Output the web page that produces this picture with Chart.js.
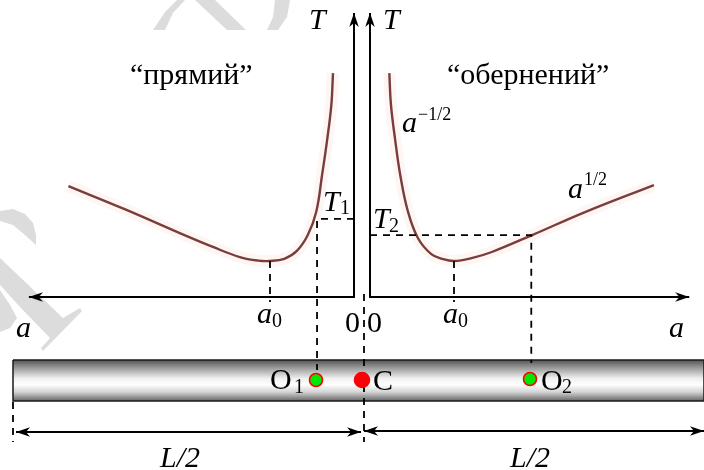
<!DOCTYPE html>
<html>
<head>
<meta charset="utf-8">
<style>
    html, body { margin: 0; padding: 0; background: #fff; }
    canvas { display: block; }
</style>
<script src="https://cdn.jsdelivr.net/npm/chart.js@4"></script>
</head>
<body>
<canvas id="chart" width="704" height="470"></canvas>
<script>
/**
 * Curves: a in units of a0, T in units of the minimum.
 */
var directA = [0.25, 0.27, 0.32, 0.38, 0.45, 0.55, 0.68, 0.83, 1.00, 1.14, 1.36, 1.68, 1.99, 2.73, 3.40];
var directT = [6.22, 5.33, 4.36, 3.39, 2.36, 1.72, 1.28, 1.06, 1.00, 1.01, 1.11, 1.39, 1.69, 2.44, 3.08];
var inverseA = [0.23, 0.25, 0.30, 0.36, 0.45, 0.57, 0.73, 0.86, 1.00, 1.21, 1.45, 1.93, 2.56, 3.38];
var inverseT = [6.22, 5.33, 4.36, 3.39, 2.39, 1.64, 1.19, 1.06, 1.00, 1.08, 1.25, 1.72, 2.36, 3.11];

/** Marked values on the two graphs. */
var a0 = 1.00;
var a1 = 0.44;
var T1 = 2.17;
var a2 = 1.92;
var T2 = 1.72;

/** Length of the axes. */
var axisTopT = 7.89;
var directAxisEnd = 3.87;
var inverseAxisEnd = 3.80;

/** Texts of the figure. */
var titles = ['\u201cпрямий\u201d', '\u201cобернений\u201d'];
var powers = ['\u22121/2', '1/2'];
var halfLength = 'L/2';

/** Outline of the rod and the grey watermark pieces on the figure scale. */
var rodX = [13, 704, 704, 13, 13];
var rodY = [360, 360, 401, 401, 360];
var pivotX = [316, 362, 530];
var pivotY = [380, 380, 379];
var watermark = [
    [[153, 30], [165, 12], [177, 0], [185, 0], [173, 13], [165, 30]],
    [[195, 0], [215, 0], [246, 30], [227, 30]],
    [[275, 0], [290, 0], [287, 17], [278, 30], [267, 30], [273, 17]],
    [[0, 211], [13, 209], [25, 214], [33, 223], [36, 235], [36, 245], [25, 235], [13, 225], [0, 221]],
    [[0, 258], [63, 318], [80, 308], [82, 311], [43, 351], [41, 348], [50, 338], [20, 307], [0, 285]],
    [[0, 290], [10, 305], [17, 318], [10, 328], [0, 332]]
];

var SERIF = '"Liberation Serif", "Times New Roman", serif';

function zip(xs, ys) {
    var points = [];
    for (var i = 0; i < xs.length; i++) {
        points.push({x: xs[i], y: ys[i]});
    }
    return points;
}

/**
 * Arrow head as a point image, the tip sits in the middle so the data point is the tip.
 */
function createArrowHead() {
    var canvas = document.createElement('canvas');
    canvas.width = 28;
    canvas.height = 14;
    var ctx = canvas.getContext('2d');
    ctx.fillStyle = '#000';
    ctx.beginPath();
    ctx.moveTo(14, 7);
    ctx.lineTo(0, 2.2);
    ctx.lineTo(4, 7);
    ctx.lineTo(0, 11.8);
    ctx.closePath();
    ctx.fill();
    return canvas;
}

var arrowHead = createArrowHead();

function line(points, xAxisID, yAxisID, color, width, extra) {
    var dataset = {
        type: 'scatter',
        showLine: true,
        data: points,
        xAxisID: xAxisID,
        yAxisID: yAxisID,
        borderColor: color,
        borderWidth: width,
        pointRadius: 0,
        fill: false
    };
    return Object.assign(dataset, extra || {});
}

function dashed(points, xAxisID) {
    return line(points, xAxisID, 'yT', '#000', 1.8, {borderDash: [7, 6]});
}

function rodGradient(context) {
    var chart = context.chart;
    // first resolved before the layout has placed the scales
    if (!chart.chartArea) {
        return '#cccccc';
    }
    var scale = chart.scales.yF;
    var gradient = chart.ctx.createLinearGradient(0, scale.getPixelForValue(360), 0, scale.getPixelForValue(401));
    gradient.addColorStop(0, '#555555');
    gradient.addColorStop(0.15, '#8c8c8c');
    gradient.addColorStop(0.45, '#f0f0f0');
    gradient.addColorStop(0.6, '#ffffff');
    gradient.addColorStop(0.78, '#d4d4d4');
    gradient.addColorStop(1, '#666666');
    return gradient;
}

function createDatasets() {
    var datasets = [];
    var direct = zip(directA, directT);
    var inverse = zip(inverseA, inverseT);
    var smooth = {tension: 0.4};

    watermark.forEach(function (shape) {
        var points = shape.map(function (p) {
            return {x: p[0], y: p[1]};
        });
        datasets.push(line(points, 'xF', 'yF', '#dcdcdc', 0, {fill: 'shape', backgroundColor: '#dcdcdc', tension: 0}));
    });

    // pale halo round the curves
    datasets.push(line(direct, 'xL', 'yT', 'rgba(250, 215, 200, 0.22)', 12, smooth));
    datasets.push(line(inverse, 'xR', 'yT', 'rgba(250, 215, 200, 0.22)', 12, smooth));

    datasets.push(line(zip(rodX, rodY), 'xF', 'yF', '#1a1a1a', 1.5, {fill: 'shape', backgroundColor: rodGradient}));

    datasets.push(line(direct, 'xL', 'yT', '#7a3d3d', 2.4, smooth));
    datasets.push(line(inverse, 'xR', 'yT', '#7a3d3d', 2.4, smooth));

    // guide lines
    datasets.push(dashed([{x: a0, y: a0}, {x: a0, y: -0.14}], 'xL'));
    datasets.push(dashed([{x: a0, y: a0}, {x: a0, y: -0.14}], 'xR'));
    datasets.push(dashed([{x: 0, y: T1}, {x: a1, y: T1}, {x: a1, y: -2.03}], 'xL'));
    datasets.push(dashed([{x: 0, y: T2}, {x: a2, y: T2}, {x: a2, y: -1.83}], 'xR'));
    datasets.push(line([{x: 364, y: 294}, {x: 364, y: 442}], 'xF', 'yF', '#000', 1.8, {borderDash: [7, 6]}));
    datasets.push(line([{x: 13, y: 402}, {x: 13, y: 442}], 'xF', 'yF', '#000', 1.8, {borderDash: [7, 6]}));

    // axes with arrow heads
    datasets.push(line([{x: 0, y: axisTopT}, {x: 0, y: 0}, {x: directAxisEnd, y: 0}], 'xL', 'yT', '#000', 2, {
        pointStyle: arrowHead, pointRadius: [1, 0, 1], pointRotation: [-90, 0, 180]
    }));
    datasets.push(line([{x: 0, y: axisTopT}, {x: 0, y: 0}, {x: inverseAxisEnd, y: 0}], 'xR', 'yT', '#000', 2, {
        pointStyle: arrowHead, pointRadius: [1, 0, 1], pointRotation: [-90, 0, 0]
    }));

    // half length arrows under the rod
    datasets.push(line([{x: 16, y: 432}, {x: 361, y: 432}], 'xF', 'yF', '#000', 2, {
        pointStyle: arrowHead, pointRadius: 1, pointRotation: [180, 0]
    }));
    datasets.push(line([{x: 364, y: 431}, {x: 704, y: 431}], 'xF', 'yF', '#000', 2, {
        pointStyle: arrowHead, pointRadius: 1, pointRotation: [180, 0]
    }));

    // pivots on the rod
    datasets.push({
        type: 'scatter',
        data: zip(pivotX, pivotY),
        xAxisID: 'xF',
        yAxisID: 'yF',
        pointRadius: [6.5, 7.5, 6.5],
        pointBackgroundColor: ['#00e800', '#fb0007', '#00e800'],
        pointBorderColor: ['#fb0007', '#fb0007', '#fb0007'],
        pointBorderWidth: 1.6
    });

    datasets.forEach(function (dataset, i) {
        dataset.order = -i;
    });
    return datasets;
}

/**
 * Draws the letters of the figure at positions on the figure scale.
 */
var figureText = {
    id: 'figureText',
    afterDatasetsDraw: function (chart) {
        var ctx = chart.ctx;
        var scaleX = chart.scales.xF;
        var scaleY = chart.scales.yF;

        function put(text, x, y, size, italic) {
            ctx.font = (italic ? 'italic ' : '') + size + 'px ' + SERIF;
            ctx.fillText(text, scaleX.getPixelForValue(x), scaleY.getPixelForValue(y));
        }

        ctx.save();
        ctx.fillStyle = '#000';
        ctx.textBaseline = 'alphabetic';
        ctx.textAlign = 'left';

        put(titles[0], 130, 84, 30);
        put(titles[1], 447, 84, 30);

        put('T', 309, 29, 30, true);
        put('T', 383, 29, 30, true);

        put('T', 323, 211, 30, true);
        put('1', 340, 214, 20);
        put('T', 373, 228, 30, true);
        put('2', 389, 232, 20);

        put('a', 402, 132, 30, true);
        put(powers[0], 418, 120, 18);
        put('a', 568, 198, 30, true);
        put(powers[1], 584, 185, 18);

        put('a', 257, 323, 30, true);
        put('0', 272, 327, 20);
        put('a', 443, 323, 30, true);
        put('0', 458, 327, 20);

        put('0', 345, 332, 30);
        put('0', 367, 332, 30);
        put('a', 16, 337, 30, true);
        put('a', 669, 337, 30, true);

        put('O', 270, 389, 30);
        put('1', 294, 393, 20);
        put('C', 373, 390, 30);
        put('O', 541, 390, 30);
        put('2', 562, 393, 20);

        put(halfLength, 160, 467, 30, true);
        put(halfLength, 510, 467, 30, true);
        ctx.restore();
    }
};

function hiddenAxis(min, max, reverse) {
    return {type: 'linear', display: false, min: min, max: max, reverse: !!reverse};
}

new Chart(document.getElementById('chart').getContext('2d'), {
    type: 'scatter',
    data: {datasets: createDatasets()},
    plugins: [figureText],
    options: {
        responsive: false,
        animation: false,
        events: [],
        layout: {padding: 0, autoPadding: false},
        plugins: {
            legend: {display: false},
            tooltip: {enabled: false}
        },
        scales: {
            xL: hiddenAxis(-350 / 84, 354 / 84, true),
            xR: hiddenAxis(-370 / 84, 334 / 84),
            xF: hiddenAxis(0, 704),
            yT: hiddenAxis(-173 / 36, 297 / 36),
            yF: hiddenAxis(0, 470, true)
        }
    }
});
</script>
</body>
</html>
